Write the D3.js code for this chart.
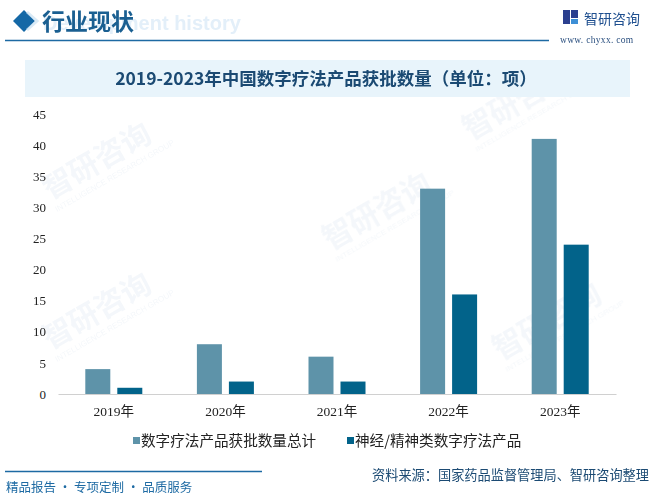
<!DOCTYPE html>
<html><head><meta charset="utf-8">
<script src="https://cdn.jsdelivr.net/npm/d3@7"></script>
<style>body{margin:0;background:#fff}svg{display:block}</style>
</head><body>
<script>
const categories = ["2019年","2020年","2021年","2022年","2023年"];
const totalValues = [4, 8, 6, 33, 41];
const neuroValues = [1, 2, 2, 16, 24];
const seriesNames = ["数字疗法产品获批数量总计","神经/精神类数字疗法产品"];
const yTicks = [0,5,10,15,20,25,30,35,40,45];
const colors = ["#5e93a9","#02638a"];

const W=655,H=504;
const svg=d3.select("body").append("svg").attr("width",W).attr("height",H);

// watermarks
const wm=svg.append("g").attr("opacity",0.05).attr("fill","#1f5f9f");
[[50,200],[50,350],[330,250],[470,140],[500,360]].forEach(([x,y])=>{
  const g=wm.append("g").attr("transform",`translate(${x},${y}) rotate(-30)`);
  g.append("text").attr("x",0).attr("y",0).attr("font-size",30).attr("font-family","Noto Sans CJK SC").attr("font-weight","bold").text("智研咨询");
  g.append("text").attr("x",0).attr("y",14).attr("font-size",8).attr("font-family","Liberation Sans").text("INTELLIGENCE RESEARCH GROUP");
});

// header
svg.append("path").attr("d","M13,21 L24,10 L35,21 L24,32 Z").attr("fill","#1468a6");
svg.append("path").attr("d","M27,12 L37,21 L27,30").attr("fill","none").attr("stroke","#c9e1f2").attr("stroke-width",3).attr("opacity",0.7);
svg.append("text").attr("x",43).attr("y",30).attr("font-size",20).attr("font-weight","bold").attr("font-family","Liberation Sans").attr("fill","#e3eff9").text("Development history");
svg.append("text").attr("x",42).attr("y",30).attr("font-size",23).attr("font-weight","bold").attr("font-family","Noto Sans CJK SC").attr("fill","#1a5f91").text("行业现状");
svg.append("line").attr("x1",5).attr("x2",549).attr("y1",40.5).attr("y2",40.5).attr("stroke","#1d6aa3").attr("stroke-width",1.3);
// logo
const lg=svg.append("g");
lg.append("rect").attr("x",563).attr("y",10).attr("width",7).attr("height",14).attr("fill","#2b3f8f");
lg.append("rect").attr("x",571).attr("y",10).attr("width",7).attr("height",8).attr("fill","#2b3f8f");
lg.append("rect").attr("x",571).attr("y",19).attr("width",7).attr("height",5).attr("fill","#3d8fd6");
svg.append("text").attr("x",584).attr("y",24).attr("font-size",14).attr("font-family","Noto Sans CJK SC").attr("fill","#1f4f8f").text("智研咨询");
svg.append("text").attr("x",560).attr("y",43).attr("font-size",9.5).attr("font-family","Liberation Serif").attr("fill","#2a4f7f").attr("letter-spacing",0.3).text("www. chyxx. com");

// title box
svg.append("rect").attr("x",25).attr("y",60).attr("width",605).attr("height",37).attr("fill","#e8f4fb");
svg.append("text").attr("x",326).attr("y",84.5).attr("text-anchor","middle").attr("font-size",17.5).attr("font-weight","bold")
  .attr("font-family","Noto Sans CJK SC").attr("fill","#1b4a73").text("2019-2023年中国数字疗法产品获批数量（单位：项）");

// scales
const x=d3.scaleBand().domain(categories).range([58,616]);
const y=d3.scaleLinear().domain([0,45]).range([394,114]);
const bw=25, gap=7;

// y axis labels
const yAxis=d3.axisLeft(y).tickValues(yTicks).tickSize(0).tickPadding(0);
const ya=svg.append("g").attr("transform","translate(46,0)").call(yAxis);
ya.select(".domain").remove();
ya.selectAll("text").attr("font-size",13).attr("font-family","Liberation Serif").attr("fill","#222");

// bars
const data=categories.map((c,i)=>({c,vals:[totalValues[i],neuroValues[i]]}));
data.forEach(d=>{
  const cx=x(d.c)+x.bandwidth()/2;
  d.vals.forEach((v,j)=>{
    const x0=j===0?cx-gap/2-bw:cx+gap/2;
    svg.append("rect").attr("x",x0).attr("y",y(v)).attr("width",bw).attr("height",y(0)-y(v)).attr("fill",colors[j]);
  });
});

// x axis
const xAxis=d3.axisBottom(x).tickSize(0).tickPadding(12);
const xa=svg.append("g").attr("transform","translate(0,394)").call(xAxis);
xa.select(".domain").attr("stroke","#d0d0d0").attr("stroke-width",1.2);
xa.selectAll("text").attr("font-size",13.5).attr("font-family","Liberation Serif, Noto Sans CJK SC").attr("fill","#222");

// legend
const lx=[133,347];
seriesNames.forEach((n,i)=>{
  svg.append("rect").attr("x",lx[i]).attr("y",437).attr("width",7).attr("height",7).attr("fill",colors[i]);
  svg.append("text").attr("x",lx[i]+8).attr("y",445.5).attr("font-size",14.6).attr("font-family","Noto Sans CJK SC").attr("fill","#222").text(n);
});

// footer
svg.append("line").attr("x1",5).attr("x2",262).attr("y1",471.5).attr("y2",471.5).attr("stroke","#1d6aa3").attr("stroke-width",1.3);
svg.append("text").attr("x",6).attr("y",492).attr("font-size",12.5).attr("font-family","Noto Sans CJK SC").attr("fill","#1d6aa3").text("精品报告 · 专项定制 · 品质服务");
svg.append("text").attr("x",649).attr("y",480).attr("text-anchor","end").attr("font-size",13.2).attr("font-family","Noto Sans CJK SC").attr("fill","#1b4a73").text("资料来源：国家药品监督管理局、智研咨询整理");
</script>
</body></html>
